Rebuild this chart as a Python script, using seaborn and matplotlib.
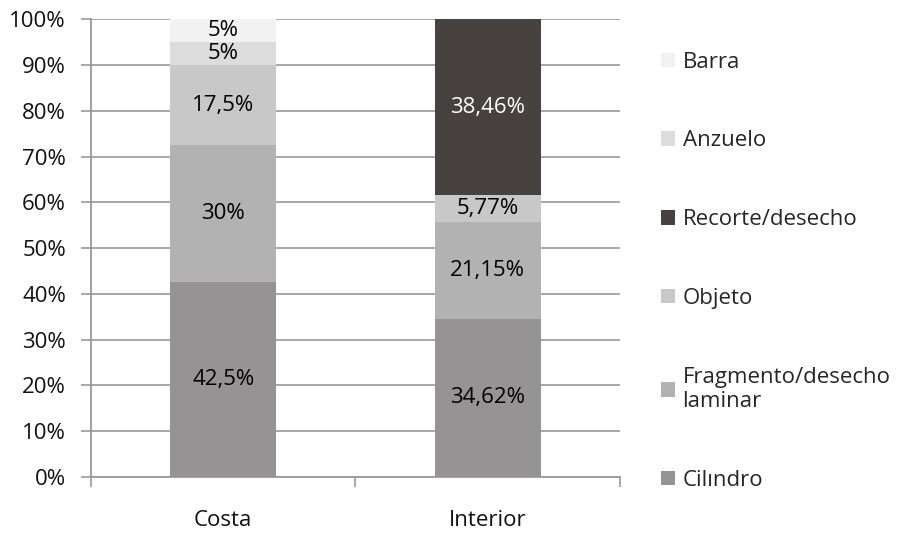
import matplotlib
matplotlib.use('Agg')
import matplotlib.pyplot as plt
from matplotlib.patches import Patch
import seaborn as sns
import numpy as np

sns.set_theme(style='white')
plt.rcParams['font.family'] = ['Open Sans', 'DejaVu Sans']

# --- datos ---
zonas = ['Costa', 'Interior']
categorias = ['Cilındro', 'Fragmento/desecho\nlaminar', 'Objeto', 'Recorte/desecho', 'Anzuelo', 'Barra']
cilindro = [42.5, 34.62]
fragmento = [30, 21.15]
objeto = [17.5, 5.77]
recorte = [0, 38.46]
anzuelo = [5, 0]
barra = [5, 0]
series = [cilindro, fragmento, objeto, recorte, anzuelo, barra]
colores = ['#959393', '#b2b2b2', '#c8c8c8', '#474240', '#dcdcdc', '#f2f2f2']
color_texto = ['black', 'black', 'black', 'white', 'black', 'black']

FS = 16

fig = plt.figure(figsize=(9.08, 5.33), dpi=100)
ax = fig.add_axes([0.1002, 0.105, 0.5826, 0.859])

x = np.arange(len(zonas))
bottom = np.zeros(len(zonas))
for vals, col, tc in zip(series, colores, color_texto):
    vals = np.array(vals, dtype=float)
    bars = ax.bar(x, vals, bottom=bottom, width=0.4, color=col, edgecolor='none', zorder=3)
    etiquetas = ['' if v == 0 else f'{v:g}'.replace('.', ',') + '%' for v in vals]
    ax.bar_label(bars, labels=etiquetas, label_type='center', color=tc, fontsize=FS)
    bottom += vals

ax.set_xlim(-0.5, 1.5)
ax.set_ylim(0, 100)
ax.set_yticks(np.arange(0, 101, 10))
ax.set_yticklabels([f'{v}%' for v in range(0, 101, 10)], fontsize=FS, color='#111111')
ax.set_xticks(x)
ax.set_xticklabels(zonas, fontsize=FS, color='#111111')
ax.set_xticks([-0.5, 0.5, 1.5], minor=True)
ax.tick_params(axis='x', which='major', length=0, pad=24)
ax.tick_params(axis='x', which='minor', length=7, color='#999999', width=1.2, direction='out', bottom=True)
ax.tick_params(axis='y', length=7, color='#999999', width=1.2, direction='out', left=True, pad=11)
ax.grid(axis='y', color='#a0a0a0', linewidth=1.3, zorder=0)
for s in ['top', 'right']:
    ax.spines[s].set_visible(False)
for s in ['left', 'bottom']:
    ax.spines[s].set_color('#999999')
    ax.spines[s].set_linewidth(1.3)

handles = [Patch(facecolor=c, edgecolor='none') for c in colores]
fig.legend(handles[::-1], categorias[::-1], loc='upper left', bbox_to_anchor=(0.728, 0.903),
           frameon=False, fontsize=FS, handlelength=0.62, handleheight=0.62,
           handletextpad=0.35, labelspacing=2.6, borderaxespad=0, borderpad=0)

plt.savefig('out.png', dpi=100)
plt.close()
